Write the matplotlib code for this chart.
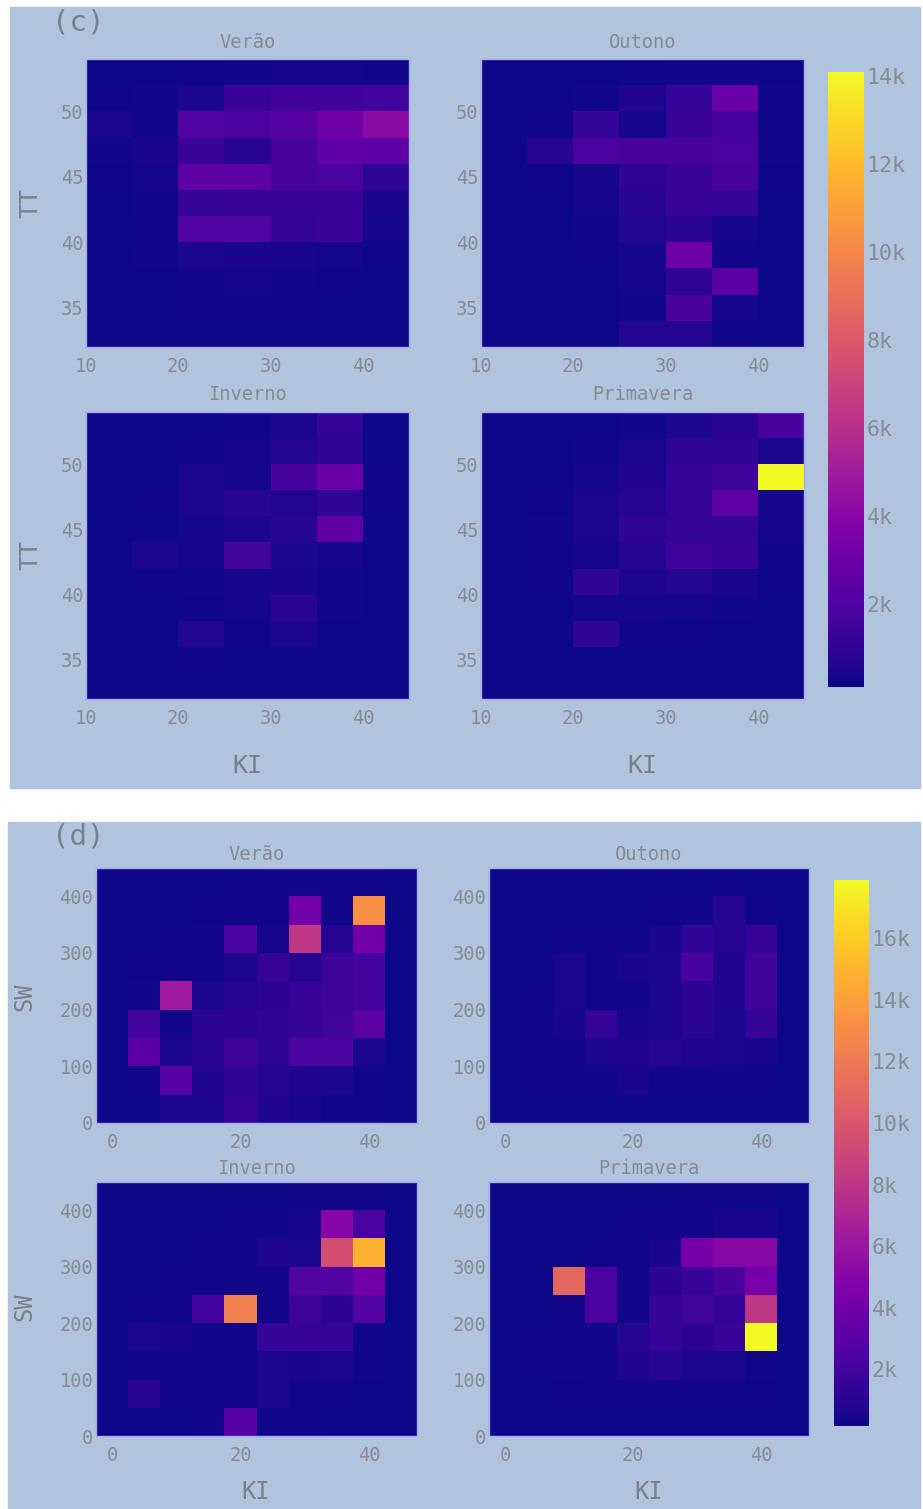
import numpy as np
import matplotlib.pyplot as plt
from matplotlib.patches import Rectangle
from matplotlib.ticker import FuncFormatter

plt.rcParams['font.family'] = ['DejaVu Sans Mono', 'DejaVu Sans']

W, H = 923, 1509
BG = '#b0c4de'
TICK = '#858b94'
LABEL = '#7a8089'

seasons = ['Verão', 'Outono', 'Inverno', 'Primavera']

# ---- (c) KI x TT, counts per bin (rows listed from top TT bin down)
ki_edges_c = [10, 15, 20, 25, 30, 35, 40, 45]
tt_edges = [32, 34, 36, 38, 40, 42, 44, 46, 48, 50, 52, 54]

verao_c = [
    [150, 150, 200, 250, 300, 300, 250],
    [200, 250, 400, 1300, 1400, 1400, 1500],
    [400, 250, 2000, 1900, 2200, 3100, 4100],
    [250, 350, 1300, 800, 1700, 2500, 2500],
    [200, 300, 2500, 2500, 1700, 1900, 900],
    [150, 250, 1100, 1300, 1300, 1300, 350],
    [150, 200, 2000, 2000, 1100, 1300, 300],
    [150, 250, 400, 350, 350, 300, 200],
    [100, 150, 250, 300, 250, 200, 150],
    [100, 150, 200, 200, 200, 150, 100],
    [100, 100, 150, 150, 150, 150, 100],
]
outono_c = [
    [100, 150, 150, 200, 250, 250, 150],
    [100, 150, 250, 500, 1100, 2900, 250],
    [100, 200, 1100, 300, 1300, 1600, 200],
    [100, 650, 1900, 1700, 1700, 1900, 250],
    [100, 200, 300, 900, 1300, 1700, 200],
    [100, 150, 300, 800, 1300, 1100, 150],
    [100, 150, 250, 550, 800, 300, 150],
    [100, 100, 200, 300, 3000, 250, 150],
    [100, 100, 150, 300, 900, 2300, 150],
    [100, 100, 150, 250, 1700, 300, 100],
    [100, 100, 150, 550, 550, 200, 100],
]
inverno_c = [
    [100, 150, 150, 250, 450, 1100, 150],
    [100, 150, 250, 300, 550, 900, 150],
    [100, 150, 400, 300, 1700, 2900, 200],
    [100, 200, 450, 800, 550, 900, 200],
    [100, 150, 300, 450, 650, 2600, 150],
    [100, 450, 300, 1500, 400, 300, 150],
    [100, 200, 250, 300, 350, 250, 100],
    [100, 150, 200, 300, 800, 250, 100],
    [100, 150, 550, 200, 400, 150, 100],
    [100, 150, 200, 150, 150, 150, 100],
    [100, 100, 150, 150, 150, 100, 100],
]
primavera_c = [
    [100, 150, 150, 250, 400, 800, 1700],
    [100, 150, 250, 400, 900, 900, 450],
    [100, 150, 300, 500, 1100, 1400, 14100],
    [100, 200, 400, 700, 1100, 2500, 300],
    [100, 250, 400, 900, 1100, 1100, 300],
    [100, 250, 300, 700, 1400, 1300, 250],
    [100, 200, 900, 400, 550, 350, 200],
    [100, 150, 300, 300, 300, 250, 150],
    [100, 150, 900, 250, 200, 150, 150],
    [100, 150, 150, 150, 150, 150, 100],
    [100, 100, 150, 150, 150, 100, 100],
]

# ---- (d) KI x SW
ki_edges_d = [-2.5, 2.5, 7.5, 12.5, 17.5, 22.5, 27.5, 32.5, 37.5, 42.5, 47.5]
sw_edges = [0, 50, 100, 150, 200, 250, 300, 350, 400, 450]

verao_d = [
    [150, 150, 150, 200, 250, 300, 300, 300, 300, 150],
    [150, 150, 200, 250, 300, 350, 4100, 350, 13200, 200],
    [150, 200, 250, 300, 2300, 400, 8000, 800, 4000, 200],
    [150, 250, 300, 350, 600, 1500, 900, 1700, 2000, 200],
    [150, 300, 6200, 600, 900, 1100, 1500, 1700, 2000, 200],
    [150, 2000, 350, 1100, 1100, 1300, 1500, 1900, 3000, 200],
    [150, 3000, 600, 1000, 1800, 1200, 2300, 2300, 600, 200],
    [150, 350, 2800, 700, 1300, 800, 700, 500, 350, 150],
    [150, 200, 500, 600, 1500, 700, 450, 350, 300, 150],
]
outono_d = [
    [150, 150, 150, 150, 150, 200, 200, 250, 200, 150],
    [150, 150, 150, 200, 200, 250, 350, 900, 250, 150],
    [150, 200, 250, 250, 250, 450, 1300, 800, 1500, 200],
    [150, 200, 500, 350, 450, 600, 2100, 700, 1800, 200],
    [150, 250, 600, 350, 350, 600, 1100, 700, 1800, 200],
    [150, 350, 450, 1400, 450, 500, 1100, 600, 1500, 200],
    [150, 300, 350, 600, 700, 800, 700, 500, 450, 150],
    [150, 250, 350, 350, 450, 350, 300, 300, 250, 150],
    [150, 150, 200, 200, 200, 200, 200, 200, 150, 150],
]
inverno_d = [
    [150, 150, 150, 150, 200, 200, 300, 300, 300, 150],
    [150, 150, 150, 200, 250, 300, 400, 5000, 2300, 150],
    [150, 150, 200, 300, 350, 700, 500, 9500, 14800, 200],
    [150, 200, 250, 300, 350, 300, 2600, 2600, 4000, 200],
    [150, 250, 300, 2000, 12300, 350, 1700, 1100, 2600, 200],
    [150, 600, 450, 350, 350, 1400, 1500, 1400, 300, 150],
    [150, 350, 300, 300, 350, 500, 450, 500, 300, 150],
    [150, 1000, 350, 300, 300, 600, 350, 300, 200, 150],
    [150, 200, 200, 300, 2800, 350, 300, 200, 150, 150],
]
primavera_d = [
    [150, 150, 150, 150, 200, 200, 250, 250, 250, 150],
    [150, 150, 150, 200, 250, 300, 350, 450, 450, 150],
    [150, 150, 200, 250, 300, 450, 4300, 5100, 5100, 200],
    [150, 200, 11000, 2400, 300, 1100, 1600, 2200, 4300, 200],
    [150, 200, 350, 2400, 350, 1400, 1900, 1400, 8000, 200],
    [150, 250, 350, 350, 800, 1400, 1100, 1600, 17900, 200],
    [150, 250, 300, 350, 700, 900, 600, 500, 350, 150],
    [150, 200, 250, 300, 350, 350, 300, 300, 250, 150],
    [150, 150, 200, 200, 200, 200, 200, 200, 150, 150],
]

cbar_ticks_c = [2000, 4000, 6000, 8000, 10000, 12000, 14000]
cbar_ticks_d = [2000, 4000, 6000, 8000, 10000, 12000, 14000, 16000]


def box(l, t, r, b):
    # pixel box (from top-left) -> figure fraction rect
    return [l / W, 1 - b / H, (r - l) / W, (b - t) / H]


def ftxt(x, y, s, **kw):
    fig.text(x / W, 1 - y / H, s, zorder=5, **kw)


fig = plt.figure(figsize=(W / 100, H / 100), dpi=100)

for l, t, r, b in [(10, 7, 920, 788), (8, 822, 920, 1509)]:
    fig.patches.append(Rectangle((l / W, 1 - b / H), (r - l) / W, (b - t) / H,
                                 transform=fig.transFigure, color=BG, zorder=-10))


def heat(rect, xe, ye, z, vmin, vmax, xt, yt):
    ax = fig.add_axes(box(*rect))
    ax.set_zorder(2)
    m = ax.pcolormesh(xe, ye, np.array(z)[::-1], cmap='plasma',
                      vmin=vmin, vmax=vmax, shading='flat')
    ax.set_xlim(xe[0], xe[-1])
    ax.set_ylim(ye[0], ye[-1])
    ax.set_xticks(xt)
    ax.set_yticks(yt)
    ax.tick_params(length=0, labelsize=13.5, colors=TICK)
    ax.tick_params(axis='x', pad=7)
    ax.tick_params(axis='y', pad=2)
    for sp in ax.spines.values():
        sp.set_color('#a3acef')
        sp.set_linewidth(1)
    return m


def colorbar(m, rect, ticks):
    cax = fig.add_axes(box(*rect))
    cax.set_zorder(2)
    cb = fig.colorbar(m, cax=cax, ticks=ticks)
    cb.outline.set_visible(False)
    cb.ax.tick_params(length=0, labelsize=15.5, colors=TICK, pad=2)
    cb.ax.yaxis.set_major_formatter(FuncFormatter(lambda v, p: '%dk' % round(v / 1000)))


# ---------------- panel (c)
grids_c = [verao_c, outono_c, inverno_c, primavera_c]
vmin_c = min(min(r) for g in grids_c for r in g)
vmax_c = max(max(r) for g in grids_c for r in g)
rects_c = [(86, 59, 409, 347), (481, 59, 804, 347),
           (86, 412, 409, 699), (481, 412, 804, 699)]
for name, g, rc in zip(seasons, grids_c, rects_c):
    m = heat(rc, ki_edges_c, tt_edges, g, vmin_c, vmax_c,
             [10, 20, 30, 40], [35, 40, 45, 50])
    ftxt((rc[0] + rc[2]) / 2, rc[1] - 17, name, ha='center', va='center',
         fontsize=13.5, color=TICK)
colorbar(m, (828, 72, 864, 687), cbar_ticks_c)

ftxt(52, 23, '(c)', fontsize=21, color=LABEL, va='center')
for y in [203, 555]:
    ftxt(30, y, 'TT', fontsize=18, color=LABEL, rotation=90, ha='center', va='center')
for x in [247, 642]:
    ftxt(x, 766, 'KI', fontsize=18, color=LABEL, ha='center', va='center')

# ---------------- panel (d)
grids_d = [verao_d, outono_d, inverno_d, primavera_d]
vmin_d = min(min(r) for g in grids_d for r in g)
vmax_d = max(max(r) for g in grids_d for r in g)
rects_d = [(96, 868, 417, 1123), (489, 868, 809, 1123),
           (96, 1182, 417, 1436), (489, 1182, 809, 1436)]
for name, g, rc in zip(seasons, grids_d, rects_d):
    m = heat(rc, ki_edges_d, sw_edges, g, vmin_d, vmax_d,
             [0, 20, 40], [0, 100, 200, 300, 400])
    ftxt((rc[0] + rc[2]) / 2, rc[1] - 14, name, ha='center', va='center',
         fontsize=13.5, color=TICK)
colorbar(m, (834, 880, 869, 1426), cbar_ticks_d)

ftxt(52, 837, '(d)', fontsize=21, color=LABEL, va='center')
for y in [997, 1307]:
    ftxt(24, y, 'SW', fontsize=17, color=LABEL, rotation=90, ha='center', va='center')
for x in [256, 649]:
    ftxt(x, 1492, 'KI', fontsize=17, color=LABEL, ha='center', va='center')

fig.savefig('out.png', dpi=100, facecolor='white')
